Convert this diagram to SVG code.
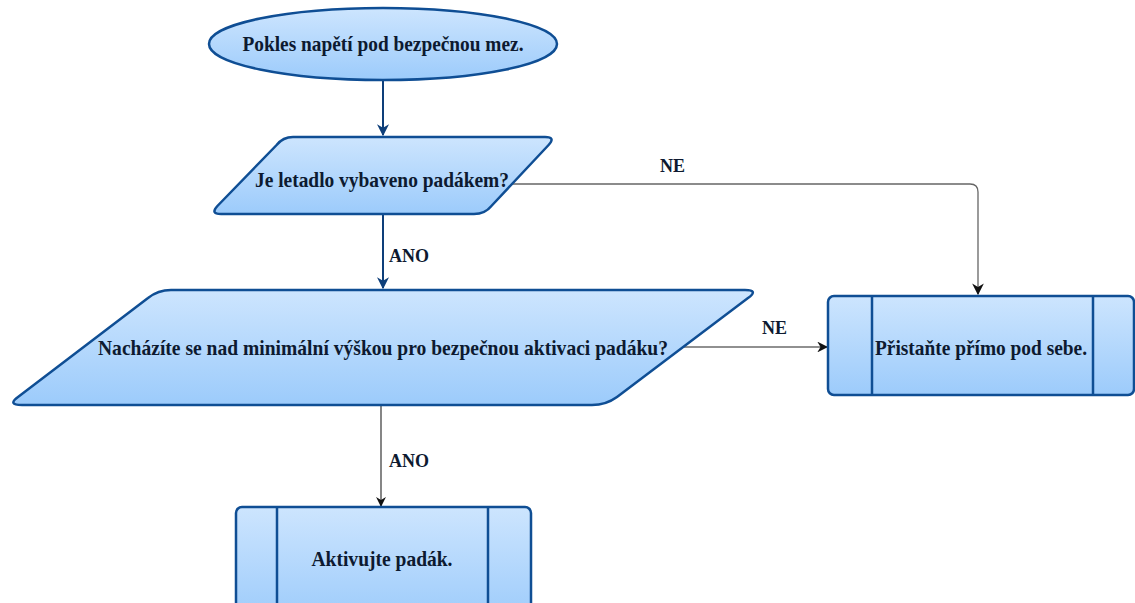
<svg xmlns="http://www.w3.org/2000/svg" width="1135" height="603" viewBox="0 0 1135 603">
<defs>
<linearGradient id="g" x1="0" y1="0" x2="0" y2="1">
<stop offset="0" stop-color="#cde5fe"/>
<stop offset="1" stop-color="#9ccbfb"/>
</linearGradient>
<marker id="ab" viewBox="0 0 10 10" refX="9" refY="5" markerWidth="6" markerHeight="6" orient="auto" markerUnits="strokeWidth">
<path d="M0,0 L10,5 L0,10 L3,5 Z" fill="#0e3f7a"/>
</marker>
<marker id="ak" viewBox="0 0 10 10" refX="9" refY="5" markerWidth="9" markerHeight="9" orient="auto" markerUnits="strokeWidth">
<path d="M0,0 L10,5 L0,10 L3,5 Z" fill="#111"/>
</marker>
</defs>
<style>
.sh{fill:url(#g);stroke:#0f4e94;stroke-width:2.5}
.ln{fill:none;stroke:#0f4e94;stroke-width:2.5}
.t{font-family:"Liberation Serif","Times New Roman",serif;font-weight:bold;font-size:22px;fill:#0d1a30;text-anchor:middle}
.lb{font-family:"Liberation Serif","Times New Roman",serif;font-weight:bold;font-size:18px;fill:#0d1a30}
</style>
<rect width="1135" height="603" fill="#fff"/>
<g id="connectors">
<line x1="383" y1="80" x2="383" y2="135" stroke="#0e3f7a" stroke-width="2" marker-end="url(#ab)"/>
<line x1="383" y1="214" x2="383" y2="288" stroke="#0e3f7a" stroke-width="2" marker-end="url(#ab)"/>
<path d="M512,184 H970 Q978,184 978,192 V294" fill="none" stroke="#666" stroke-width="1.3" marker-end="url(#ak)"/>
<line x1="682" y1="347" x2="827" y2="347" stroke="#222" stroke-width="1.2" marker-end="url(#ak)"/>
<line x1="381" y1="405" x2="381" y2="506" stroke="#222" stroke-width="1.1" marker-end="url(#ak)"/>
<text class="lb" x="660" y="172">NE</text>
<text class="lb" x="389" y="262">ANO</text>
<text class="lb" x="762" y="334">NE</text>
<text class="lb" x="389" y="467">ANO</text>
</g>
<g id="start">
<ellipse class="sh" cx="383" cy="44" rx="174" ry="36"/>
<text class="t" x="383" y="51" textLength="281" lengthAdjust="spacingAndGlyphs">Pokles napětí pod bezpečnou mez.</text>
</g>
<g id="decision1">
<path class="sh" d="M293,137 L545,137 Q556,137 548.6,145 L491.4,206 Q485,214 474,214 L221,214 Q210,214 217.4,206 L276.6,145 Q283,137 293,137 Z"/>
<text class="t" x="382" y="187" textLength="254" lengthAdjust="spacingAndGlyphs">Je letadlo vybaveno padákem?</text>
</g>
<g id="decision2">
<path class="sh" d="M171,290 L745,290 Q759,290 748,298 L617,397 Q606,405 592,405 L22,405 Q7,405 18,397 L148,298 Q158,290 171,290 Z"/>
<text class="t" x="383" y="355" textLength="570" lengthAdjust="spacingAndGlyphs">Nacházíte se nad minimální výškou pro bezpečnou aktivaci padáku?</text>
</g>
<g id="land">
<rect class="sh" x="828" y="296" width="306" height="99" rx="6"/>
<line class="ln" x1="872" y1="296" x2="872" y2="395"/>
<line class="ln" x1="1093" y1="296" x2="1093" y2="395"/>
<text class="t" x="981" y="355" textLength="212" lengthAdjust="spacingAndGlyphs">Přistaňte přímo pod sebe.</text>
</g>
<g id="activate">
<rect class="sh" x="236" y="507" width="295" height="115" rx="6"/>
<line class="ln" x1="277" y1="507" x2="277" y2="622"/>
<line class="ln" x1="488" y1="507" x2="488" y2="622"/>
<text class="t" x="382" y="566" textLength="141" lengthAdjust="spacingAndGlyphs">Aktivujte padák.</text>
</g>
</svg>
